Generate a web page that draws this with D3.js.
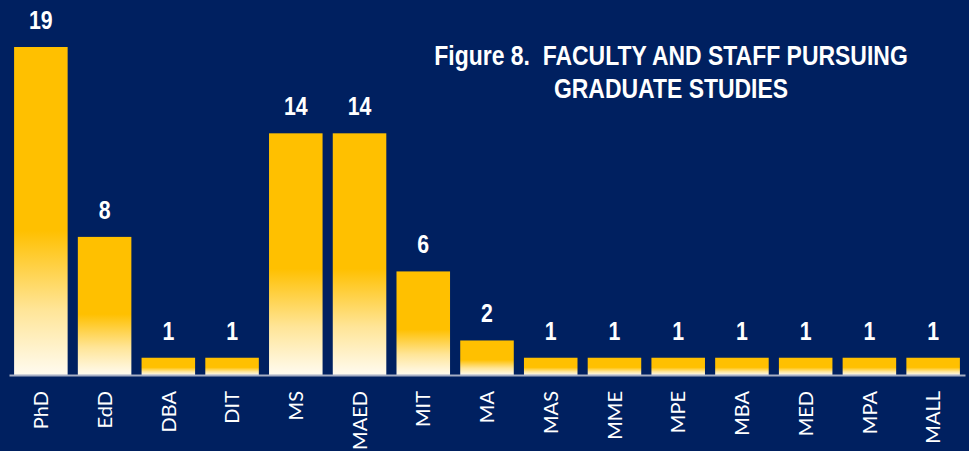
<!DOCTYPE html>
<html>
<head>
<meta charset="utf-8">
<script src="https://cdn.jsdelivr.net/npm/d3@7"></script>
<style>
  html, body { margin: 0; padding: 0; background: #002060; }
  svg { display: block; }
  .valText { fill: #fff; font-family: 'Liberation Sans', Arial, sans-serif; font-weight: bold; font-size: 26px; }
  .catText { fill: #fff; font-family: Lato, 'Noto Sans', sans-serif; font-size: 20px; }
  .title { fill: #fff; font-family: 'Liberation Sans', Arial, sans-serif; font-weight: bold; font-size: 28px; white-space: pre; }
</style>
</head>
<body>
<div id="chart"></div>
<script>
var categories = ['PhD', 'EdD', 'DBA', 'DIT', 'MS', 'MAED', 'MIT', 'MA', 'MAS', 'MME', 'MPE', 'MBA', 'MED', 'MPA', 'MALL'];
var counts = [19, 8, 1, 1, 14, 14, 6, 2, 1, 1, 1, 1, 1, 1, 1];
var titleLines = ['Figure 8.  FACULTY AND STAFF PURSUING', 'GRADUATE STUDIES'];

var width = 969;
var height = 451;
var baseY = 375;
var narrow = 0.82; // squeeze to mimic a narrow face

var svg = d3.select('#chart')
    .append('svg')
    .attr('width', width)
    .attr('height', height)
    .style('background', '#002060');

var defs = svg.append('defs');
var grad = defs.append('linearGradient')
    .attr('id', 'barGrad')
    .attr('x1', 0).attr('y1', 0)
    .attr('x2', 0).attr('y2', 1);
grad.append('stop').attr('offset', '0').attr('stop-color', '#FFC000');
grad.append('stop').attr('offset', '0.56').attr('stop-color', '#FFC000');
grad.append('stop').attr('offset', '0.8').attr('stop-color', '#FFE597');
grad.append('stop').attr('offset', '1').attr('stop-color', '#FFFBF0');

var xScale = d3.scaleBand()
    .domain(categories)
    .range([9, 965])
    .paddingInner(0.16)
    .paddingOuter(0.08);

var yScale = d3.scaleLinear()
    .domain([0, 19])
    .range([baseY, 47]);

var data = categories.map((c, i) => ({ cat: c, val: counts[i] }));

svg.append('g')
    .selectAll('rect')
    .data(data)
    .enter()
    .append('rect')
    .attr('x', d => xScale(d.cat))
    .attr('y', d => yScale(d.val))
    .attr('width', xScale.bandwidth())
    .attr('height', d => baseY - yScale(d.val))
    .attr('fill', 'url(#barGrad)');

// value labels
svg.append('g')
    .selectAll('g')
    .data(data)
    .enter()
    .append('g')
    .attr('transform', d => `translate(${xScale(d.cat) + xScale.bandwidth() / 2},${yScale(d.val) - 18}) scale(${narrow},1)`)
    .append('text')
    .attr('class', 'valText')
    .attr('text-anchor', 'middle')
    .text(d => d.val);

// x axis
var xAxis = d3.axisBottom(xScale).tickSize(0).tickPadding(0);
var axisG = svg.append('g')
    .attr('transform', `translate(0,${baseY})`)
    .call(xAxis);
axisG.select('.domain')
    .attr('stroke', '#A6AEC4')
    .attr('stroke-width', 2);
axisG.selectAll('.tick text')
    .attr('class', 'catText')
    .attr('fill', '#fff')
    .attr('font-size', null)
    .attr('font-family', null)
    .attr('text-anchor', 'end')
    .attr('transform', 'rotate(-90)')
    .attr('x', -16)
    .attr('y', 0)
    .attr('dy', '0.36em');

// title
var title = svg.append('g')
    .attr('transform', `translate(671,0) scale(${narrow},1)`)
    .append('text')
    .attr('class', 'title')
    .attr('text-anchor', 'middle');
title.selectAll('tspan')
    .data(titleLines)
    .enter()
    .append('tspan')
    .attr('x', 0)
    .attr('y', (d, i) => 65 + i * 33)
    .text(d => d);
</script>
</body>
</html>
